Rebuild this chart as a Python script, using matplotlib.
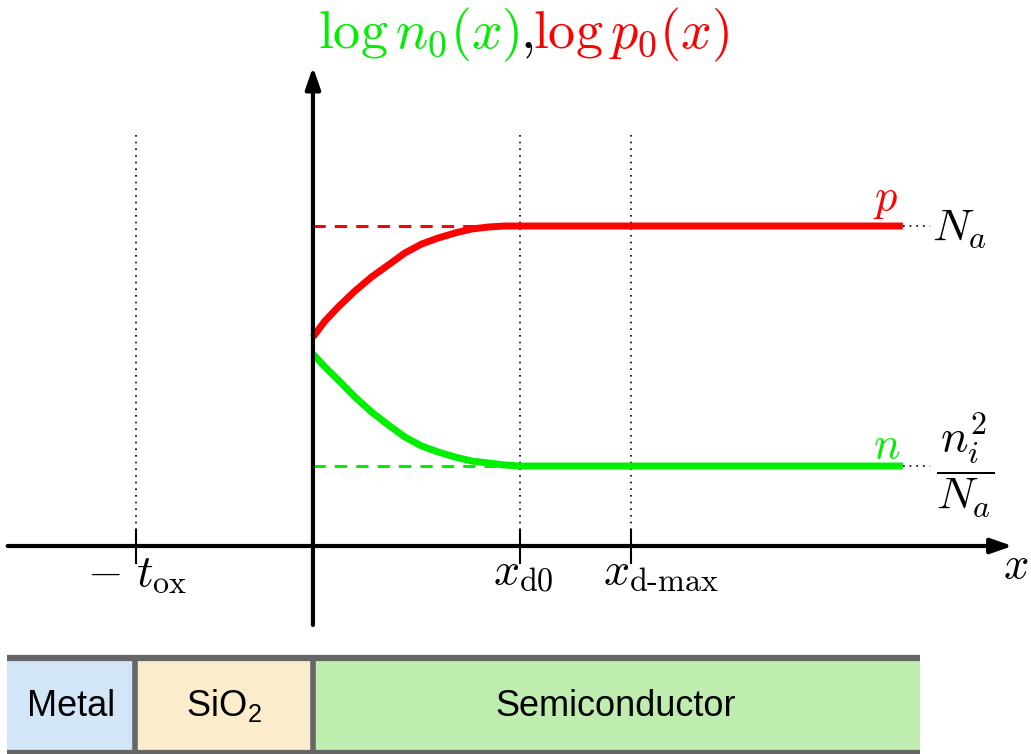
import matplotlib
matplotlib.use("Agg")
import matplotlib.pyplot as plt
from matplotlib.patches import Rectangle
from matplotlib.offsetbox import TextArea, HPacker, AnchoredOffsetbox

plt.rcParams['mathtext.fontset'] = 'cm'

# positions along x (interface at 0, depletion edge x_d0 = 1)
t_ox = 0.855
x_d0 = 1.0
x_dmax = 1.536
x_end = 2.85

# log levels (arbitrary units)
p_level = 3.20
n_level = 0.80

# carrier profiles
x_prof = [0.0, 0.058, 0.122, 0.203, 0.283, 0.364, 0.444, 0.525, 0.605,
          0.686, 0.767, 0.847, 0.928, 1.0, 2.85]
p_prof = [2.09, 2.25, 2.39, 2.55, 2.69, 2.81, 2.93, 3.02, 3.08,
          3.13, 3.17, 3.19, 3.20, 3.20, 3.20]
n_prof = [1.92, 1.79, 1.66, 1.49, 1.34, 1.21, 1.09, 1.00, 0.94,
          0.89, 0.85, 0.83, 0.81, 0.80, 0.80]

# layers of the MOS stack
layers = ["Metal", r"SiO$_\mathregular{2}$", "Semiconductor"]
layer_edges = [-1.478, -0.858, -0.002, 2.932]
layer_colors = ["#d3e6f8", "#fbedcb", "#bfedb0"]

red = "#ff0000"
green = "#00ee00"


def main():
    fig = plt.figure(figsize=(10.31, 7.54), dpi=100)
    ax = fig.add_axes([0, 0, 1, 1])
    ax.set_xlim(-1.512, 3.469)
    ax.set_ylim(-2.08, 5.46)
    ax.axis("off")

    # axes with arrows
    ax.annotate("", xy=(3.38, 0), xytext=(-1.475, 0),
                arrowprops=dict(arrowstyle="-|>,head_length=1.3,head_width=0.45",
                                lw=3, color="black", shrinkA=0, shrinkB=0))
    ax.annotate("", xy=(0, 4.79), xytext=(0, -0.79),
                arrowprops=dict(arrowstyle="-|>,head_length=1.3,head_width=0.45",
                                lw=3, color="black", shrinkA=0, shrinkB=0))

    # vertical markers
    for xv in [-t_ox, x_d0, x_dmax]:
        ax.plot([xv, xv], [0.16, 4.16], color="black", lw=1.2, ls=(0, (1, 3)))
        ax.plot([xv, xv], [0.16, -0.17], color="black", lw=1.5)

    # reference dashed levels
    ax.plot([0, x_d0], [p_level, p_level], color=red, lw=2.2, ls=(0, (4, 3)))
    ax.plot([0, x_d0], [n_level, n_level], color=green, lw=2.2, ls=(0, (4, 3)))

    # profiles
    ax.plot(x_prof, p_prof, color=red, lw=5, solid_capstyle="butt", solid_joinstyle="round")
    ax.plot(x_prof, n_prof, color=green, lw=5, solid_capstyle="butt", solid_joinstyle="round")

    # dotted leaders to labels
    ax.plot([x_end, x_end + 0.13], [p_level, p_level], color="black", lw=1.2, ls=(0, (1, 3)))
    ax.plot([x_end, x_end + 0.13], [n_level, n_level], color="black", lw=1.2, ls=(0, (1, 3)))

    ax.text(2.705, 3.25, r"$p$", color=red, fontsize=32, ha="left", va="bottom")
    ax.text(2.705, 0.88, r"$n$", color=green, fontsize=32, ha="left", va="baseline")
    ax.text(2.99, 3.17, r"$N_a$", fontsize=33, ha="left", va="center")
    ax.text(3.01, 0.815, r"$\dfrac{n_i^2}{N_a}$", fontsize=33, ha="left", va="center")

    # title, coloured pieces side by side
    parts = [(r"$\log n_0(x)$", green), (r"$,$", "black"), (r"$\log p_0(x)$", red)]
    boxes = [TextArea(s, textprops=dict(color=c, fontsize=39)) for s, c in parts]
    title = HPacker(children=boxes, pad=0, sep=0, align="baseline")
    anchored = AnchoredOffsetbox(loc="upper left", child=title, pad=0, borderpad=0,
                                 frameon=False, bbox_to_anchor=(318 / 1031, 1 - 6 / 754),
                                 bbox_transform=fig.transFigure)
    ax.add_artist(anchored)

    # x tick labels
    ax.text(-1.09, -0.40, r"$-\ t_\mathrm{ox}$", fontsize=33, ha="left", va="baseline")
    ax.text(0.87, -0.38, r"$x_\mathrm{d0}$", fontsize=33, ha="left", va="baseline")
    ax.text(1.401, -0.38, r"$x_\mathrm{d\text{-}max}$", fontsize=33, ha="left", va="baseline")
    ax.text(3.335, -0.32, r"$x$", fontsize=32, ha="left", va="baseline")

    # material stack
    y0, y1 = -2.065, -1.12
    for i, name in enumerate(layers):
        xa, xb = layer_edges[i], layer_edges[i + 1]
        ax.add_patch(Rectangle((xa, y0), xb - xa, y1 - y0, facecolor=layer_colors[i],
                               edgecolor="none"))
        ax.text((xa + xb) / 2, -1.6, name, fontsize=26, family="Liberation Sans",
                ha="center", va="center")
    for xb in layer_edges[1:3]:
        ax.plot([xb, xb], [y0, y1], color="#666666", lw=4)
    ax.plot([layer_edges[0], layer_edges[-1]], [y1, y1], color="#666666", lw=4.5, solid_capstyle="butt")
    ax.plot([layer_edges[0], layer_edges[-1]], [y0, y0], color="#666666", lw=4.5, solid_capstyle="butt")

    fig.savefig("out.png", dpi=100)


if __name__ == "__main__":
    main()
